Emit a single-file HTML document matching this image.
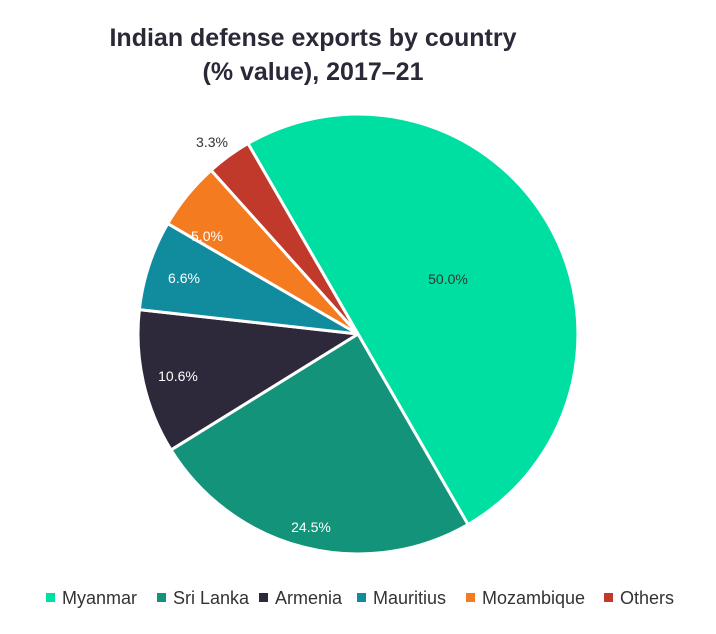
<!DOCTYPE html>
<html><head><meta charset="utf-8"><style>
body{margin:0;background:#fff;width:716px;height:629px;overflow:hidden;font-family:"Liberation Sans",sans-serif}
</style></head><body>
<svg id="s" width="716" height="629" xmlns="http://www.w3.org/2000/svg">
<text x="313" y="46" text-anchor="middle" font-size="25" font-weight="bold" fill="#2b2838">Indian defense exports by country</text>
<text x="313" y="80" text-anchor="middle" font-size="25" font-weight="bold" fill="#2b2838">(% value), 2017–21</text>
<g id="pie"></g>
<g font-size="14" text-anchor="middle">
<text x="448" y="284" fill="#333">50.0%</text>
<text x="311" y="532" fill="#fff">24.5%</text>
<text x="178" y="381" fill="#fff">10.6%</text>
<text x="184" y="283" fill="#fff">6.6%</text>
<text x="207" y="241" fill="#fff">5.0%</text>
<text x="212" y="147" fill="#333">3.3%</text>
</g>
<g font-size="18" fill="#333">
<rect x="46" y="593" width="9" height="9" fill="#00dfa2"/><text x="62" y="604">Myanmar</text>
<rect x="157" y="593" width="9" height="9" fill="#13937a"/><text x="173" y="604">Sri Lanka</text>
<rect x="259" y="593" width="9" height="9" fill="#2e293a"/><text x="275" y="604">Armenia</text>
<rect x="357" y="593" width="9" height="9" fill="#118c9f"/><text x="373" y="604">Mauritius</text>
<rect x="466" y="593" width="9" height="9" fill="#f47b20"/><text x="482" y="604">Mozambique</text>
<rect x="604" y="593" width="9" height="9" fill="#c0392b"/><text x="620" y="604">Others</text>
</g>
</svg>
<script>
var cx=358,cy=334,r=220,a=-30;
var d=[[50,"#00dfa2"],[24.5,"#13937a"],[10.6,"#2e293a"],[6.6,"#118c9f"],[5,"#f47b20"],[3.3,"#c0392b"]];
var g=document.getElementById("pie"),h="";
function p(t){var rad=t*Math.PI/180;return [cx+r*Math.sin(rad),cy-r*Math.cos(rad)];}
d.forEach(function(s){var b=a+s[0]*3.6;var p1=p(a),p2=p(b);
h+='<path d="M'+cx+','+cy+'L'+p1[0]+','+p1[1]+'A'+r+','+r+' 0 '+(b-a>180?1:0)+' 1 '+p2[0]+','+p2[1]+'Z" fill="'+s[1]+'" stroke="#fff" stroke-width="3" stroke-linejoin="round"/>';a=b;});
g.innerHTML=h;
</script>
</body></html>
